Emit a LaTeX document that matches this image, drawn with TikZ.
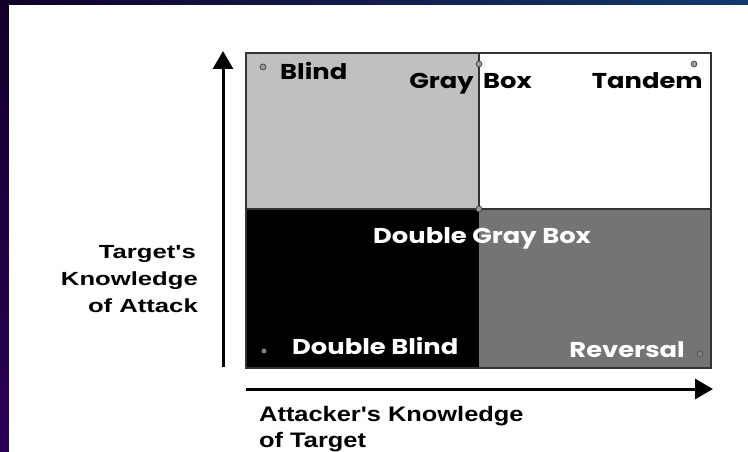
\documentclass[tikz,border=0pt]{standalone}
\usepackage{fontspec}
\setmainfont{Liberation Sans}
\newfontfamily\quadfont{Poppins}[UprightFont=* Bold]
\usetikzlibrary{arrows.meta}
\definecolor{framedark}{HTML}{12002A}
\definecolor{framepurple}{HTML}{2A0055}
\definecolor{frameblue}{HTML}{123A6E}
\definecolor{lightq}{HTML}{C0C0C0}
\definecolor{darkq}{HTML}{747474}
\definecolor{gridline}{HTML}{333333}
\definecolor{dotgray}{HTML}{9A9A9A}
\newcommand{\qsc}[1]{\scalebox{1.2}[1]{#1}}
\tikzset{
  quadlabel/.style={inner sep=0pt, font=\quadfont\fontsize{21.5}{24}\selectfont},
  axislabel/.style={inner sep=0pt, font=\bfseries\fontsize{19}{27}\selectfont},
  bottomlabel/.style={inner sep=0pt, font=\bfseries\fontsize{21}{27}\selectfont},
  marker/.style={circle, draw=gridline, fill=dotgray, line width=0.6pt, inner sep=0pt, minimum size=6pt},
  axisarrow/.style={line width=3pt, -{Triangle[length=18pt,width=20pt]}},
  gridborder/.style={draw=gridline, line width=2pt}
}
\begin{document}
\begin{tikzpicture}[x=1pt,y=-1pt]
\useasboundingbox (0,0) rectangle (748,452);
% frame
\shade[top color=framedark, bottom color=framepurple] (0,0) rectangle (9,452);
\shade[left color=framedark, right color=frameblue] (0,0) rectangle (748,5);
\fill[white] (9,5) rectangle (748,452);
% quadrants
\fill[lightq] (246,53) rectangle (479,209);
\fill[white] (479,53) rectangle (711,209);
\fill[black] (246,209) rectangle (479,368);
\fill[darkq] (479,209) rectangle (711,368);
\draw[gridborder] (479,53) -- (479,209);
\draw[gridborder] (246,209) -- (711,209);
\draw[gridborder] (246,53) rectangle (711,368);
% markers
\node[marker] (m1) at (263,67) {};
\node[marker] (m2) at (479,64) {};
\node[marker] (m3) at (694,64) {};
\node[marker] (m4) at (479,209) {};
\node[marker, draw=none, fill=gray, minimum size=5pt] (m5) at (264,351) {};
\node[marker, draw=black!70, fill=gray] (m6) at (700,354) {};
% quadrant labels
\node[quadlabel, anchor=base west] (blind) at (280,80) {\qsc{Blind}};
\node[quadlabel, anchor=base east] (gray) at (474,89) {\qsc{Gray}};
\node[quadlabel, anchor=base west] (box) at (483,89) {\qsc{Box}};
\node[quadlabel, anchor=base east] (tandem) at (703,89) {\qsc{Tandem}};
\node[quadlabel, anchor=base west, text=white] (dgb) at (373,243) {\qsc{Double Gray Box}};
\node[quadlabel, anchor=base west, text=white] (db) at (292,354) {\qsc{Double Blind}};
\node[quadlabel, anchor=base east, text=white] (rev) at (685,357) {\qsc{Reversal}};
% axes
\coordinate (ybot) at (223,367);
\coordinate (ytop) at (223,51);
\coordinate (xleft) at (246,389);
\coordinate (xright) at (713,389);
\draw[axisarrow] (ybot) -- (ytop);
\draw[axisarrow] (xleft) -- (xright);
% axis labels
\node[axislabel, anchor=base east] (yl1) at (196,258) {\scalebox{1.35}[1]{Target\textquotesingle s}};
\node[axislabel, anchor=base east] (yl2) at (198,285) {\scalebox{1.35}[1]{Knowledge}};
\node[axislabel, anchor=base east] (yl3) at (198,312) {\scalebox{1.35}[1]{of Attack}};
\node[bottomlabel, anchor=base west] (xl1) at (259,421) {\scalebox{1.21}[1]{Attacker\textquotesingle s Knowledge}};
\node[bottomlabel, anchor=base west] (xl2) at (259,447) {\scalebox{1.21}[1]{of Target}};
\end{tikzpicture}
\end{document}
